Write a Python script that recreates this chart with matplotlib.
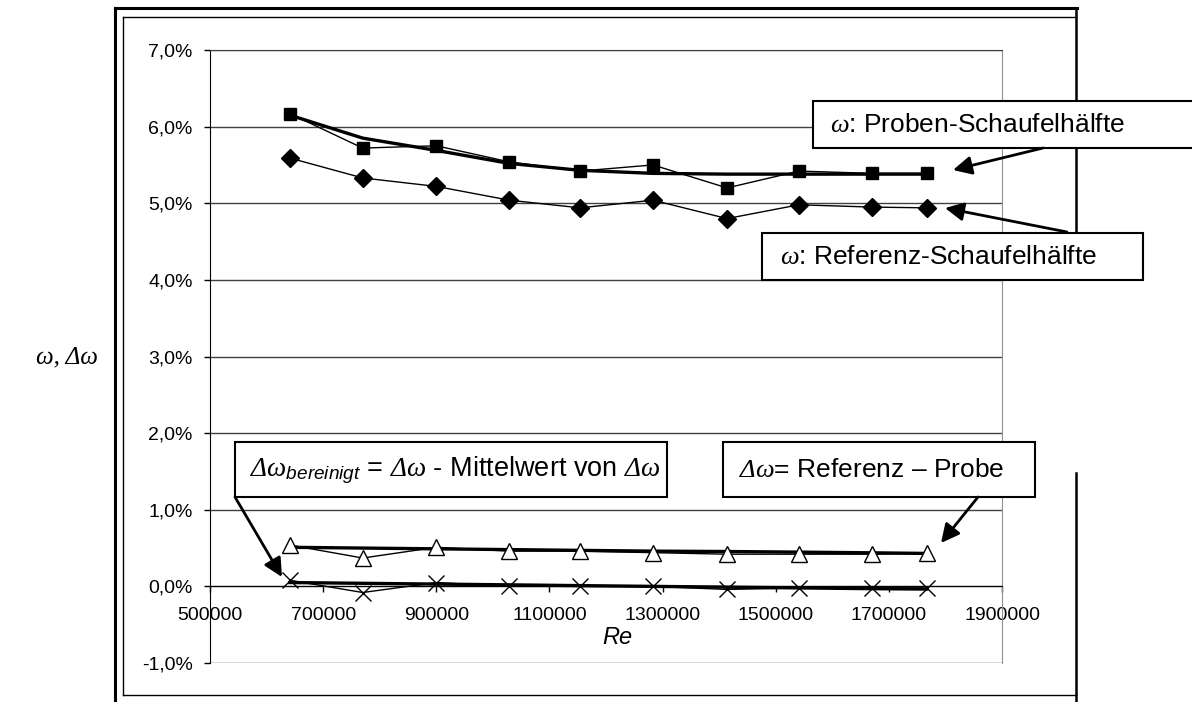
import matplotlib
matplotlib.use("Agg")
import matplotlib.pyplot as plt
from matplotlib.lines import Line2D
from matplotlib.patches import Rectangle, FancyArrowPatch
from matplotlib.ticker import FuncFormatter, MultipleLocator

# ================= DATA =================
re_values = [641000, 770000, 900000, 1029000, 1154000, 1283000, 1414000, 1541000, 1670000, 1767000]

omega_probe = [6.17, 5.72, 5.75, 5.54, 5.42, 5.50, 5.20, 5.42, 5.39, 5.39]
omega_probe_trend = [6.15, 5.85, 5.69, 5.52, 5.43, 5.39, 5.38, 5.38, 5.38, 5.38]
omega_ref = [5.59, 5.33, 5.22, 5.04, 4.94, 5.04, 4.80, 4.98, 4.95, 4.94]

delta_omega = [0.54, 0.37, 0.51, 0.46, 0.46, 0.44, 0.42, 0.42, 0.42, 0.43]
delta_omega_trend = [0.51, 0.50, 0.49, 0.48, 0.47, 0.46, 0.455, 0.447, 0.438, 0.43]
delta_bereinigt = [0.08, -0.08, 0.05, 0.00, 0.00, 0.00, -0.04, -0.02, -0.02, -0.02]
delta_bereinigt_trend = [0.05, 0.04, 0.03, 0.02, 0.01, 0.00, -0.01, -0.02, -0.03, -0.035]

x_ticks = [500000, 700000, 900000, 1100000, 1300000, 1500000, 1700000, 1900000]

# ================= STYLE =================
W, H = 1192, 702
plt.rcParams['font.family'] = ['Liberation Sans', 'DejaVu Sans']
plt.rcParams['mathtext.fontset'] = 'custom'
# greek letters in the labels are serif italic (capital greek goes to 'rm')
plt.rcParams['mathtext.rm'] = 'Liberation Serif:italic'
plt.rcParams['mathtext.it'] = 'Liberation Serif:italic'
plt.rcParams['mathtext.sf'] = 'Liberation Sans:italic'
plt.rcParams['mathtext.bf'] = 'Liberation Sans:bold'


def fp(x, y):
    # pixel position -> figure fraction
    return (x / W, 1 - y / H)


fig = plt.figure(figsize=(W / 100, H / 100), dpi=100)
ax_l, ax_r, ax_t, ax_b = 210, 1002, 50, 663
ax = fig.add_axes([ax_l / W, 1 - ax_b / H, (ax_r - ax_l) / W, (ax_b - ax_t) / H])

# frame around the chart
def fline(xs, ys, lw):
    pts = [fp(x, y) for x, y in zip(xs, ys)]
    fig.add_artist(Line2D([p[0] for p in pts], [p[1] for p in pts],
                          transform=fig.transFigure, color='black', lw=lw, zorder=1))

fline([115, 115], [8, 705], 2.2)
fline([115, 1077], [8, 8], 2.2)
fline([1076, 1076], [8, 232], 1.8)
fline([1076, 1076], [473, 705], 1.8)
fline([123, 123], [17, 695], 1.0)
fline([123, 1076], [17, 17], 1.0)
fline([123, 1076], [695, 695], 1.0)

# series
thin = dict(color='black', lw=1.0, zorder=4)
ax.plot(re_values, omega_probe_trend, color='black', lw=2.4, zorder=3)
ax.plot(re_values, omega_probe, marker='s', ms=8, mfc='black', mec='black', **thin)
ax.plot(re_values, omega_ref, marker='D', ms=9, mfc='black', mec='black', **thin)
ax.plot(re_values, delta_omega_trend, color='black', lw=2.4, zorder=3)
ax.plot(re_values, delta_omega, marker='^', ms=12, mfc='white', mec='black', mew=1.0, **thin)
ax.plot(re_values, delta_bereinigt_trend, color='black', lw=2.4, zorder=3)
ax.plot(re_values, delta_bereinigt, marker='x', ms=11, mec='black', mew=1.0, **thin)

# axes
ax.set_xlim(500000, 1900000)
ax.set_ylim(-1.0, 7.0)
ax.set_xticks(x_ticks)
ax.yaxis.set_major_locator(MultipleLocator(1.0))
ax.yaxis.set_major_formatter(FuncFormatter(lambda v, p: f"{v:.1f}%".replace('.', ',')))
ax.xaxis.set_major_formatter(FuncFormatter(lambda v, p: f"{int(v)}"))
ax.grid(axis='y', color='#404040', lw=1.0)
ax.set_axisbelow(True)
ax.spines['bottom'].set_position(('data', 0))
ax.spines['bottom'].set_color('black')
ax.spines['left'].set_color('black')
ax.spines['top'].set_color('#404040')
ax.spines['right'].set_color('#909090')
ax.tick_params(axis='y', direction='out', length=4.5, width=1, pad=8, labelsize=14)
ax.tick_params(axis='x', direction='out', length=4.5, width=1, pad=10, labelsize=14)

fig.text(*fp(617, 638), 'Re', fontsize=17, style='italic', ha='center', va='center')
fig.text(*fp(67, 357), 'ω, Δω', fontsize=18, family='Liberation Serif',
         style='italic', ha='center', va='center')

# annotation boxes
def box(x0, y0, x1, y1):
    (fx0, fy1), (fx1, fy0) = fp(x0, y0), fp(x1, y1)
    fig.add_artist(Rectangle((fx0, fy0), fx1 - fx0, fy1 - fy0, transform=fig.transFigure,
                             facecolor='white', edgecolor='black', lw=1.5, zorder=6))


def arrow(x0, y0, x1, y1):
    fig.add_artist(FancyArrowPatch(fp(x0, y0), fp(x1, y1), transform=fig.transFigure,
                                   arrowstyle='-|>,head_length=0.7,head_width=0.35',
                                   mutation_scale=16, color='black', lw=2.0,
                                   shrinkA=0, shrinkB=0, zorder=7))


box(813, 101, 1210, 148)
fig.text(*fp(830, 125), r'$\omega$: Proben-Schaufelhälfte', fontsize=19,
         ha='left', va='center', zorder=8)
arrow(1043, 148, 953, 170)

box(762, 233, 1143, 280)
fig.text(*fp(780, 257), r'$\omega$: Referenz-Schaufelhälfte', fontsize=19,
         ha='left', va='center', zorder=8)
arrow(1067, 232, 945, 208)

box(235, 442, 667, 497)
fig.text(*fp(250, 470),
         r'$\Delta\omega_{\mathsf{bereinigt}}$ = $\Delta\omega$ - Mittelwert von $\Delta\omega$',
         fontsize=19.5, ha='left', va='center', zorder=8)
arrow(235, 497, 282, 577)

box(723, 442, 1035, 497)
fig.text(*fp(739, 470), r'$\Delta\omega$= Referenz – Probe', fontsize=19,
         ha='left', va='center', zorder=8)
arrow(978, 497, 941, 543)

fig.savefig('out.png', dpi=100)
